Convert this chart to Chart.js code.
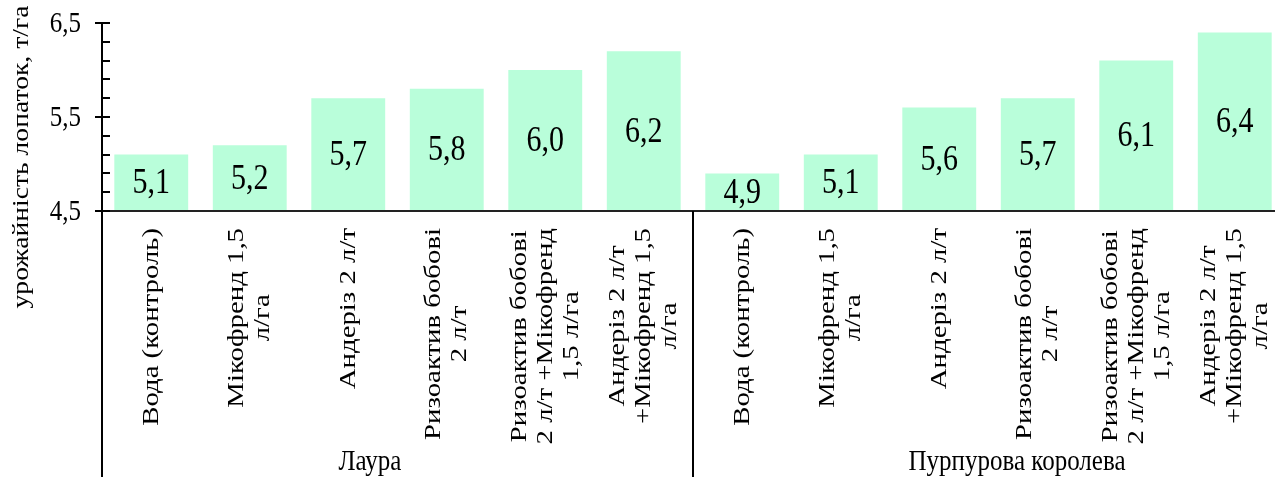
<!DOCTYPE html>
<html>
<head>
<meta charset="utf-8">
<script src="https://cdn.jsdelivr.net/npm/chart.js@4.4.0/dist/chart.umd.min.js"></script>
<style>
html, body { margin: 0; padding: 0; background: #fff; overflow: hidden; }
#wrap { position: relative; width: 1290px; height: 477px; }
</style>
</head>
<body>
<div id="wrap"><canvas id="yieldChart"></canvas></div>
<script>
// ---- data ----
const groups = ['Лаура', 'Пурпурова королева'];
const treatments = [
    ['Вода (контроль)'],
    ['Мікофренд 1,5', 'л/га'],
    ['Андеріз 2 л/т'],
    ['Ризоактив бобові', '2 л/т'],
    ['Ризоактив бобові', '2 л/т +Мікофренд', '1,5 л/га'],
    ['Андеріз 2 л/т', '+Мікофренд 1,5', 'л/га']
];
const yieldLaura = [5.1, 5.2, 5.7, 5.8, 6.0, 6.2];
const yieldKoroleva = [4.9, 5.1, 5.6, 5.7, 6.1, 6.4];
const yTitle = 'урожайність лопаток, т/га';
const yMin = 4.5;
const yMax = 6.5;
const yMajorTicks = [4.5, 5.5, 6.5];
const yMinorStep = 0.2;

const categories = groups.flatMap(() => treatments);
const values = yieldLaura.concat(yieldKoroleva);

const serif = '"Liberation Serif", "Times New Roman", serif';
const stretch = 1.2; // the original picture is a bit taller than wide
const fmt = v => v.toFixed(1).replace('.', ',');
const isMajor = v => yMajorTicks.some(m => Math.abs(m - v) < 1e-6);

function putText(ctx, text, x, y, rotated) {
    ctx.save();
    ctx.translate(x, y);
    if (rotated) {
        ctx.rotate(-Math.PI / 2);
        ctx.scale(stretch, 1);
    } else {
        ctx.scale(1, stretch);
    }
    ctx.fillText(text, 0, 0);
    ctx.restore();
}

// labels, ticks and group dividers drawn on top of the chart
const decor = {
    id: 'decor',
    afterDatasetsDraw(chart) {
        const { ctx, scales: { y } } = chart;
        const base = y.getPixelForValue(yMin);
        ctx.save();
        ctx.font = '30px ' + serif;
        ctx.fillStyle = '#000';
        ctx.textAlign = 'center';
        ctx.textBaseline = 'middle';
        chart.getDatasetMeta(0).data.forEach((bar, i) => {
            putText(ctx, fmt(values[i]), bar.x, (bar.y + base) / 2 + 1, false);
        });
        ctx.restore();
    },
    afterDraw(chart) {
        const { ctx, chartArea: a, scales: { x, y } } = chart;
        const H = chart.height;
        ctx.save();
        ctx.strokeStyle = '#000';
        ctx.fillStyle = '#000';

        // y ticks: major cross the axis and carry a label, minor point inwards
        ctx.lineWidth = 2;
        ctx.font = '25px ' + serif;
        ctx.textAlign = 'right';
        ctx.textBaseline = 'middle';
        y.ticks.forEach(t => {
            const py = Math.round(y.getPixelForValue(t.value));
            ctx.beginPath();
            if (isMajor(t.value)) {
                ctx.moveTo(a.left - 7, py);
                ctx.lineTo(a.left + 8, py);
                ctx.stroke();
                putText(ctx, fmt(t.value), a.left - 21, py + 1, false);
            } else {
                ctx.moveTo(a.left, py);
                ctx.lineTo(a.left + 8, py);
                ctx.stroke();
            }
        });

        // axis line continues down through the label area, plus group divider
        const n = treatments.length;
        const divX = (x.getPixelForValue(n - 1) + x.getPixelForValue(n)) / 2;
        ctx.beginPath();
        ctx.moveTo(a.left, a.bottom);
        ctx.lineTo(a.left, H);
        ctx.moveTo(divX, a.bottom);
        ctx.lineTo(divX, H);
        ctx.stroke();

        // rotated category labels, top aligned, lines centred
        ctx.font = '24px ' + serif;
        ctx.textAlign = 'center';
        const lineH = 26;
        categories.forEach((lines, i) => {
            const cx = x.getPixelForValue(i);
            const maxW = Math.max(...lines.map(l => ctx.measureText(l).width)) * stretch;
            const cy = a.bottom + 17 + maxW / 2;
            lines.forEach((line, k) => {
                const dx = (k - (lines.length - 1) / 2) * lineH;
                putText(ctx, line, cx + dx, cy, true);
            });
        });

        // group labels (sit a little off-centre in the original)
        ctx.font = '25px ' + serif;
        const groupX = [a.left + 268, divX + 324];
        groups.forEach((g, gi) => putText(ctx, g, groupX[gi], 462, false));

        // y axis title
        ctx.font = '23px ' + serif;
        putText(ctx, yTitle, 22, 157, true);

        ctx.restore();
    }
};

new Chart(document.getElementById('yieldChart'), {
    type: 'bar',
    data: {
        labels: categories.map(l => l.join(' ')),
        datasets: [{
            data: values,
            backgroundColor: 'rgb(185, 254, 218)',
            borderWidth: 0,
            barPercentage: 0.75,
            categoryPercentage: 1
        }]
    },
    options: {
        responsive: true,
        maintainAspectRatio: false,
        animation: false,
        layout: { padding: { top: 23, right: 6, bottom: 266, left: 0 } },
        plugins: {
            legend: { display: false },
            tooltip: { enabled: false }
        },
        scales: {
            x: {
                grid: { display: false, drawTicks: false },
                ticks: { display: false },
                border: { display: true, color: '#222', width: 2, z: 1 }
            },
            y: {
                min: yMin,
                max: yMax,
                afterFit(scale) { scale.width = 102; },
                grid: { display: false, drawTicks: false },
                border: { display: true, color: '#000', width: 2, z: 1 },
                ticks: { display: false, stepSize: yMinorStep, autoSkip: false }
            }
        }
    },
    plugins: [decor]
});
</script>
</body>
</html>
